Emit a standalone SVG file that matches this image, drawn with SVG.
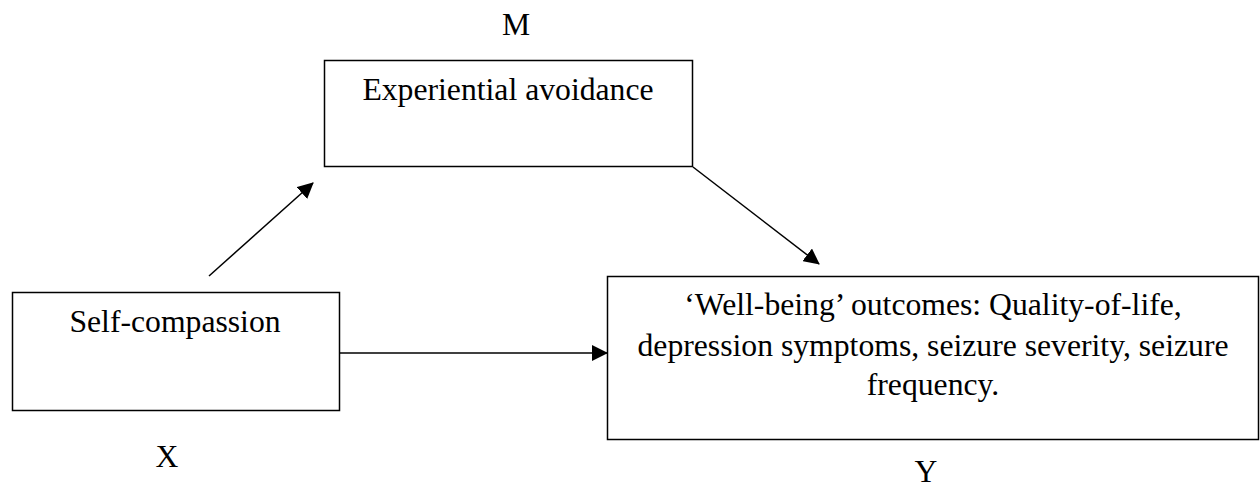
<svg xmlns="http://www.w3.org/2000/svg" width="1260" height="487" viewBox="0 0 1260 487">
<style>
.box{fill:#fff;stroke:#000;stroke-width:1.5}
.t{font-family:"Liberation Serif","Times New Roman",serif;font-size:31.7px;fill:#000;text-anchor:middle}
.c{stroke:#000;stroke-width:1.5;fill:none}
</style>
<defs>
<marker id="ah" markerUnits="userSpaceOnUse" markerWidth="16" markerHeight="16" viewBox="0 0 16 16" refX="15" refY="8" orient="auto">
<path d="M0,0 L16,8 L0,16 Z" fill="#000"/>
</marker>
</defs>
<rect width="1260" height="487" fill="#fff"/>
<g id="node-m">
<rect class="box" x="324.5" y="60.5" width="368" height="106"/>
<text class="t" x="508" y="100">Experiential avoidance</text>
<text class="t" x="516" y="35">M</text>
</g>
<g id="node-x">
<rect class="box" x="12.5" y="292.5" width="327" height="118"/>
<text class="t" x="175" y="332">Self-compassion</text>
<text class="t" x="167" y="467">X</text>
</g>
<g id="node-y">
<rect class="box" x="607.5" y="276.5" width="651" height="163"/>
<text class="t" x="933" y="315">‘Well-being’ outcomes: Quality-of-life,</text>
<text class="t" x="933" y="356">depression symptoms, seizure severity, seizure</text>
<text class="t" x="933" y="395">frequency.</text>
<text class="t" x="926" y="482">Y</text>
</g>
<g id="connectors">
<line class="c" x1="209" y1="276" x2="313" y2="183" marker-end="url(#ah)"/>
<line class="c" x1="693" y1="167" x2="819" y2="264" marker-end="url(#ah)"/>
<line class="c" x1="339" y1="353" x2="607" y2="353" marker-end="url(#ah)"/>
</g>
</svg>
